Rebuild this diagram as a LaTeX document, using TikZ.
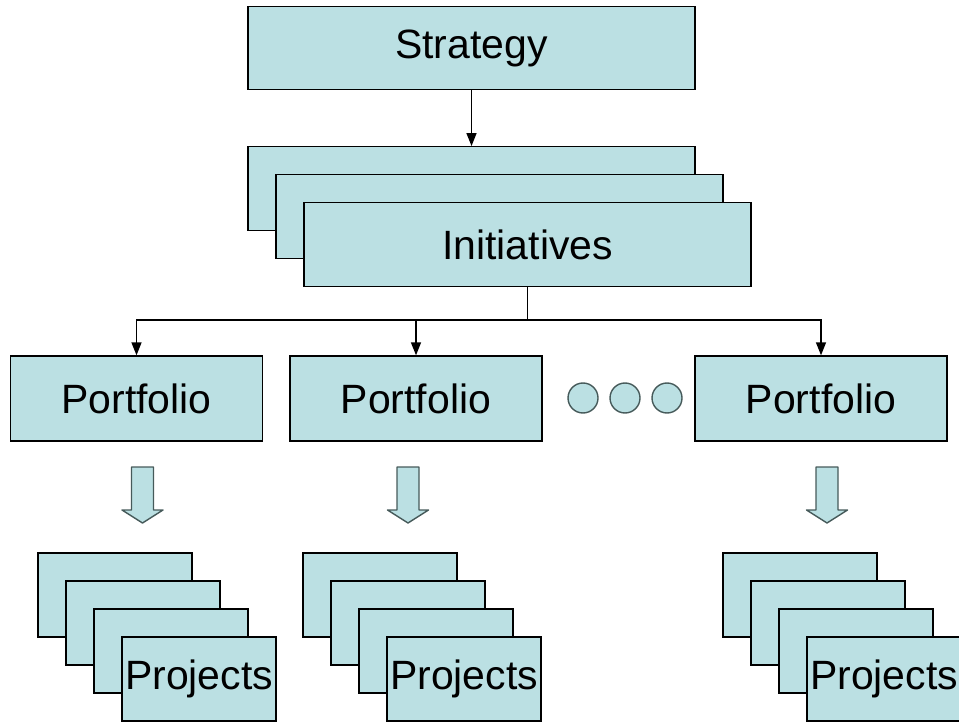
\documentclass[tikz,border=0pt]{standalone}
\usepackage{fontspec}
\setmainfont{Liberation Sans}
\usetikzlibrary{arrows.meta}
\definecolor{boxblue}{RGB}{187,224,227}
\definecolor{edgegray}{RGB}{70,90,90}

\begin{document}
\begin{tikzpicture}[x=0.02cm, y=-0.02cm,
  every node/.style={font=\fontsize{23.3}{28}\selectfont, inner sep=0pt},
  bigbox/.style={draw, thick, fill=boxblue, minimum width=8.94cm, minimum height=1.67cm},
  portbox/.style={draw, thick, fill=boxblue, minimum width=5.04cm, minimum height=1.70cm},
  projbox/.style={draw, thick, fill=boxblue, minimum width=3.08cm, minimum height=1.68cm},
  dot/.style={circle, draw=edgegray, thick, fill=boxblue, minimum size=0.6cm},
  blockarrow/.style={draw=edgegray, thick, fill=boxblue, line join=round},
  arr/.style={thick, -{Triangle[length=0.26cm, width=0.2cm]}}]
\useasboundingbox (0,0) rectangle (959,722);
\clip (0,0) rectangle (959,722);

\node [bigbox] (strategy) at (471.5, 48) {Strategy};

\node [bigbox] (init1) at (471.5, 188.5) {};
\node [bigbox] (init2) at (499.5, 216.5) {};
\node [bigbox] (init3) at (527.5, 244.5) {Initiatives};

\node [portbox] (port1) at (136.5, 398.5) {Portfolio};
\node [portbox] (port2) at (416, 398.5) {Portfolio};
\node [portbox] (port3) at (821, 398.5) {Portfolio};

\node [dot] (dot1) at (583, 398) {};
\node [dot] (dot2) at (625, 398) {};
\node [dot] (dot3) at (667, 398) {};

\coordinate (fork) at (527.5, 320);

\draw [arr] (strategy) -- (init1);
\draw [thick] (init3.south) -- (fork);
\draw [arr] (fork) -| (port1.north);
\draw [arr] (fork) -| (port2.north);
\draw [arr] (fork) -| (port3.north);

% block arrows
\draw [blockarrow] (131.5, 467) -- (153.5, 467) -- (153.5, 510) -- (163, 510)
  -- (142.5, 523) -- (122, 510) -- (131.5, 510) -- cycle;
\draw [blockarrow] (397, 467) -- (419, 467) -- (419, 510) -- (428.5, 510)
  -- (408, 523) -- (387.5, 510) -- (397, 510) -- cycle;
\draw [blockarrow] (816, 467) -- (838, 467) -- (838, 510) -- (847.5, 510)
  -- (827, 523) -- (806.5, 510) -- (816, 510) -- cycle;

% project stacks
\node [projbox] (proja1) at (115, 595) {};
\node [projbox] (proja2) at (143, 623) {};
\node [projbox] (proja3) at (171, 651) {};
\node [projbox] (proja4) at (199, 679) {Projects};

\node [projbox] (projb1) at (380, 595) {};
\node [projbox] (projb2) at (408, 623) {};
\node [projbox] (projb3) at (436, 651) {};
\node [projbox] (projb4) at (464, 679) {Projects};

\node [projbox] (projc1) at (800, 595) {};
\node [projbox] (projc2) at (828, 623) {};
\node [projbox] (projc3) at (856, 651) {};
\node [projbox] (projc4) at (884, 679) {Projects};
\end{tikzpicture}
\end{document}
